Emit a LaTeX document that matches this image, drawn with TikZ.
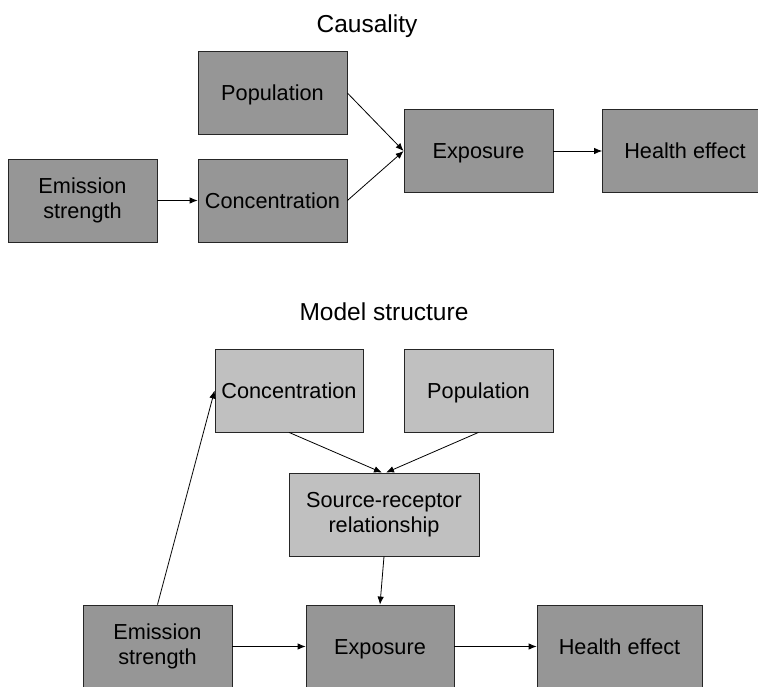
\documentclass[tikz,border=0pt]{standalone}
\usepackage{fontspec}
\setmainfont{Liberation Sans}
\usepackage{tikz}
\usetikzlibrary{arrows.meta}
\definecolor{darkgrey}{HTML}{969696}
\definecolor{lightgrey}{HTML}{C0C0C0}

\begin{document}
\begin{tikzpicture}
        [%%%%%%%%%%%%%%%%%%%%%%%%%%%%%%
        x=1pt, y=-1pt,
        >={Latex[length=8pt,width=6.5pt]},
        box/.style={rectangle, draw=black!85, line width=0.8pt, inner sep=0pt,
          minimum width=149pt, minimum height=83pt, align=center,
          font=\fontsize{21.7}{25}\selectfont},
        dark/.style={box, fill=darkgrey},
        light/.style={box, fill=lightgrey},
        oneline/.style={text height=15.5pt, text depth=0pt},
        heading/.style={anchor=base, font=\fontsize{24.5}{29}\selectfont},
        link/.style={->, line width=0.8pt},
        ]%%%%%%%%%%%%%%%%%%%%%%%%%%%%%%
        \useasboundingbox (0,0) rectangle (758,686);
        % Causality
        \node[heading] (causal) at (367,32) {Causality};
        \node[dark, oneline] (pop1) at (272.5,93) {Population};
        \node[dark] (emis1) at (82.5,200.5) {Emission\\strength};
        \node[dark, oneline] (conc1) at (272.5,200.5) {Concentration};
        \node[dark, oneline] (expo1) at (478.5,151) {Exposure};
        \node[dark, oneline, minimum width=165pt] (heal1) at (685,151) {Health effect};
        \draw[link] (emis1) -- (conc1);
        \draw[link] (pop1.east) -- (expo1.west);
        \draw[link] (conc1.east) -- (expo1.west);
        \draw[link] (expo1) -- (heal1);
        % Model structure
        \node[heading] (model) at (384,320) {Model structure};
        \node[light, oneline, minimum width=148pt] (conc2) at (289,390.5) {Concentration};
        \node[light, oneline] (pop2) at (478.5,390.5) {Population};
        \node[light, minimum width=190pt] (srr) at (384,514.5) {Source-receptor\\relationship};
        \node[dark] (emis2) at (157.5,646.5) {Emission\\strength};
        \node[dark, oneline, minimum width=148pt] (expo2) at (380,646.5) {Exposure};
        \node[dark, oneline, minimum width=165pt] (heal2) at (619.5,646.5) {Health effect};
        \draw[link] (emis2.north) -- (conc2.west);
        \draw[link] (conc2.south) -- ([xshift=-2pt]srr.north);
        \draw[link] (pop2.south) -- ([xshift=2pt]srr.north);
        \draw[link] (srr.south) -- (expo2.north);
        \draw[link] (emis2) -- (expo2);
        \draw[link] (expo2) -- (heal2);
      \end{tikzpicture}
\end{document}
